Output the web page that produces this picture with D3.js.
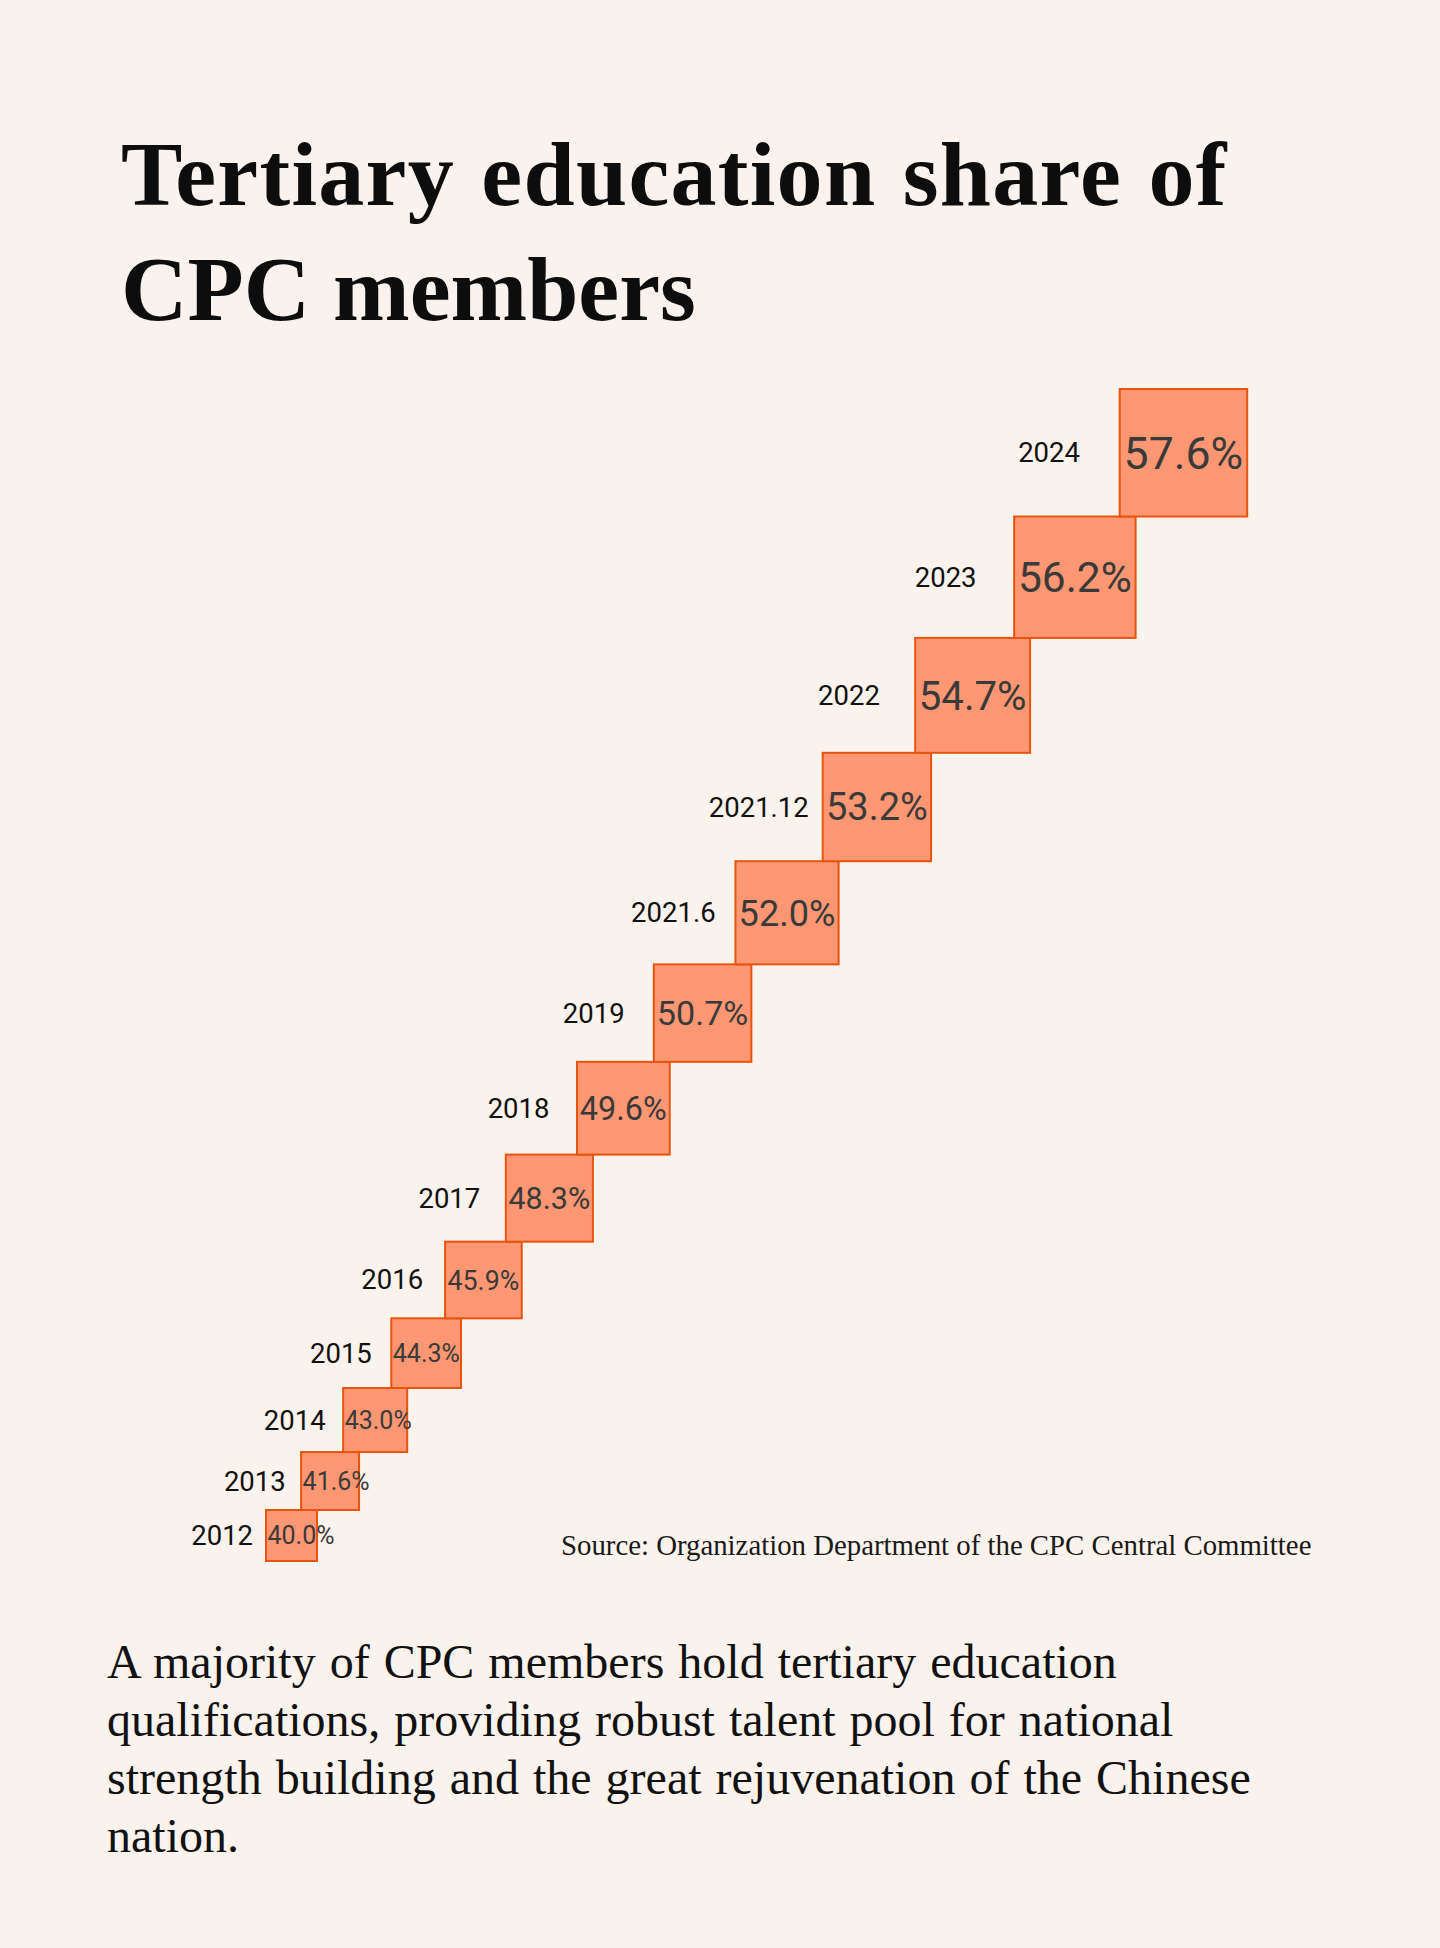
<!DOCTYPE html>
<html>
<head>
<meta charset="utf-8">
<script src="https://cdn.jsdelivr.net/npm/d3@7"></script>
<style>
  html, body { margin: 0; padding: 0; background: #FAF2EC; }
  svg { display: block; }
</style>
</head>
<body>
<svg id="chart" width="1440" height="1948"></svg>
<script>
// ---- data ----
const periods = ["2012", "2013", "2014", "2015", "2016", "2017", "2018", "2019", "2021.6", "2021.12", "2022", "2023", "2024"];
const shares = [40.0, 41.6, 43.0, 44.3, 45.9, 48.3, 49.6, 50.7, 52.0, 53.2, 54.7, 56.2, 57.6];
const titleLines = ["Tertiary education share of", "CPC members"];
const sourceText = "Source: Organization Department of the CPC Central Committee";
const bodyLines = [
  "A majority of CPC members hold tertiary education",
  "qualifications, providing robust talent pool for national",
  "strength building and the great rejuvenation of the Chinese",
  "nation."
];

// ---- drawing ----
const svg = d3.select("#chart");
svg.append("rect").attr("width", 1440).attr("height", 1948).attr("fill", "#FAF2EC");

const serif = "'Liberation Serif', 'Times New Roman', serif";
const sans = "Roboto, 'Noto Sans', sans-serif";

svg.append("g").selectAll("text").data(titleLines).join("text")
  .attr("x", 121)
  .attr("y", (d, i) => 205 + i * 115)
  .attr("font-family", serif)
  .attr("font-weight", 700)
  .attr("font-size", 92)
  .attr("letter-spacing", (d, i) => i === 0 ? 1.3 : 0)
  .attr("word-spacing", (d, i) => i === 0 ? 2 : 0)
  .attr("fill", "#0d0d0d")
  .text(d => d);

// square size scale
const size = d3.scaleLinear().domain([40, 57.6]).range([51, 127.5]);
const overlap = 15.9;
const x0 = 266, bottom0 = 1561;

const boxes = [];
let x = x0, bottom = bottom0;
periods.forEach((p, i) => {
  const s = size(shares[i]);
  boxes.push({ period: p, value: shares[i], x: x, y: bottom - s, s: s });
  x = x + s - overlap;
  bottom = bottom - s;
});

const g = svg.append("g");
const cells = g.selectAll("g.cell").data(boxes).join("g").attr("class", "cell");

cells.append("rect")
  .attr("x", d => d.x)
  .attr("y", d => d.y)
  .attr("width", d => d.s)
  .attr("height", d => d.s)
  .attr("fill", "#FF9774")
  .attr("stroke", "#E8540E")
  .attr("stroke-width", 2);

// value labels (centred, overflow to the right like HTML text)
cells.append("text")
  .attr("class", "val")
  .attr("font-family", sans)
  .attr("font-size", d => Math.max(25, 0.35 * d.s))
  .attr("fill", "#3a3a3a")
  .attr("y", d => d.y + d.s / 2 + 0.355 * Math.max(25, 0.35 * d.s))
  .text(d => d.value.toFixed(1) + "%")
  .each(function(d) {
    const w = this.getComputedTextLength();
    const cx = d.x + d.s / 2;
    d3.select(this).attr("x", Math.max(d.x + 1.5, cx - w / 2));
  });

// period labels
cells.append("text")
  .attr("font-family", sans)
  .attr("font-size", 27.5)
  .attr("fill", "#111")
  .attr("text-anchor", "middle")
  .attr("x", d => d.x - (26 + 0.35 * d.s))
  .attr("y", d => d.y + d.s / 2 + 9.5)
  .text(d => d.period);

// source
svg.append("text")
  .attr("x", 561)
  .attr("y", 1555)
  .attr("font-family", serif)
  .attr("font-size", 28.8)
  .attr("fill", "#1a1a1a")
  .text(sourceText);

// body paragraph
svg.append("g").selectAll("text").data(bodyLines).join("text")
  .attr("x", 107)
  .attr("y", (d, i) => 1678 + i * 58)
  .attr("font-family", serif)
  .attr("font-size", 48)
  .attr("word-spacing", 2)
  .attr("fill", "#111")
  .text(d => d);
</script>
</body>
</html>
